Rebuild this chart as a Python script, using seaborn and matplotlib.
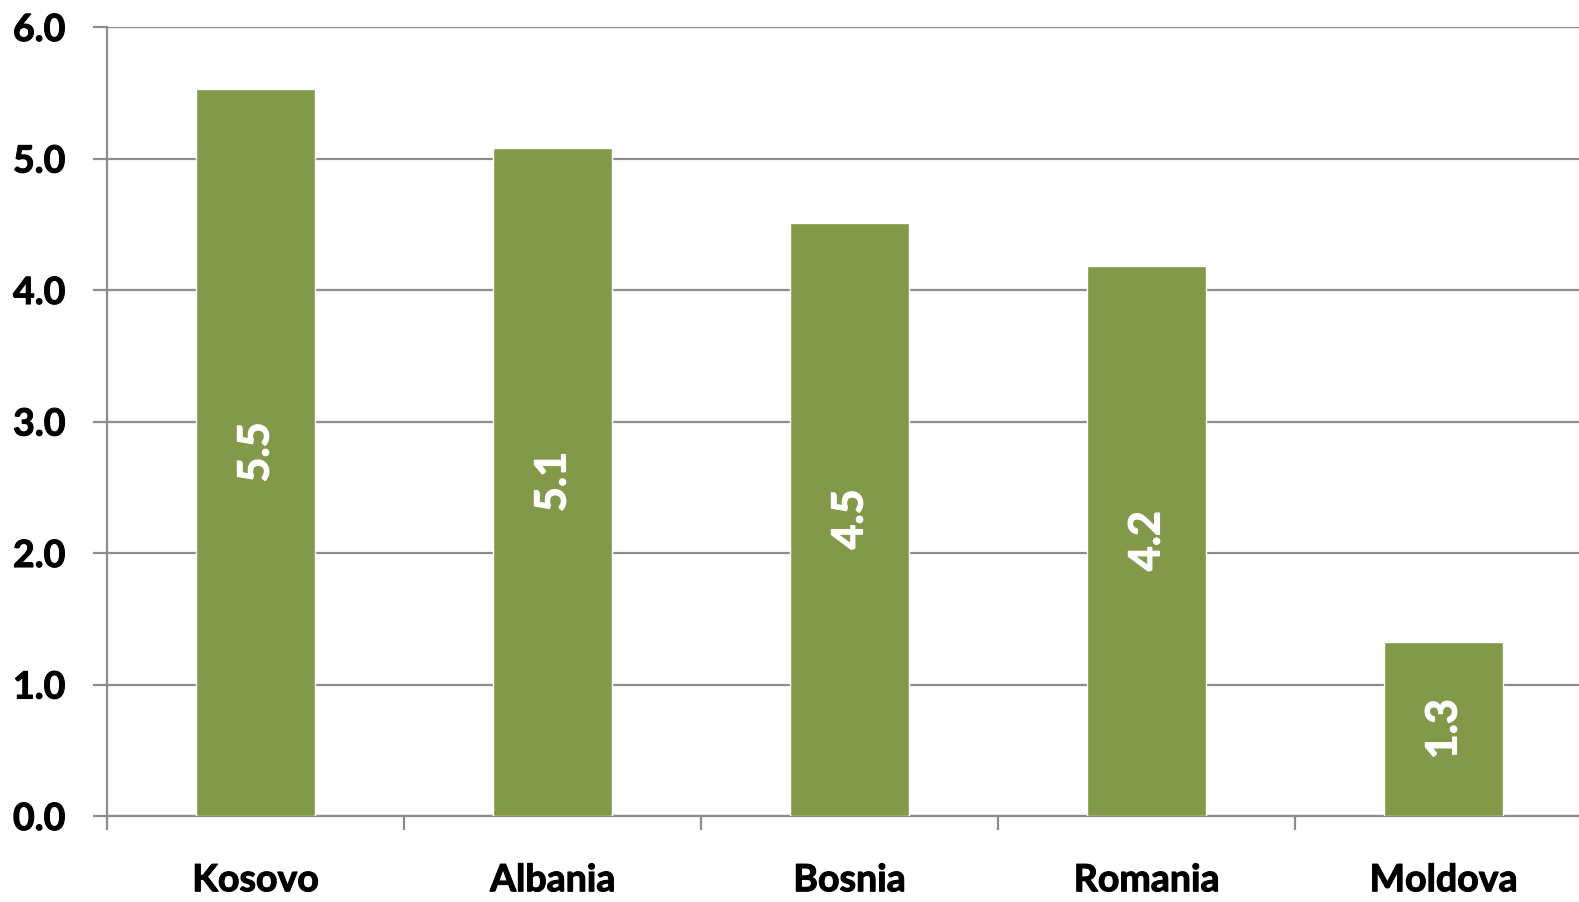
import pandas as pd
import numpy as np
import matplotlib.pyplot as plt
import matplotlib.patheffects as pe
import seaborn as sns

countries = ["Kosovo", "Albania", "Bosnia", "Romania", "Moldova"]
values = [5.53, 5.08, 4.51, 4.18, 1.32]
labels = ["5.5", "5.1", "4.5", "4.2", "1.3"]
yticks = [0.0, 1.0, 2.0, 3.0, 4.0, 5.0, 6.0]

GREEN = "#82994A"
GRID = "#8C8C8C"

sns.set_style("white")
plt.rcParams["font.family"] = ["Lato", "DejaVu Sans"]

df = pd.DataFrame({"country": countries, "value": values})

fig = plt.figure(figsize=(15.79, 9.03), dpi=100)
# axes runs a little past the right edge, like the source
ax = fig.add_axes([107 / 1579, (903 - 817) / 903, 1485 / 1579, (817 - 28) / 903])

sns.barplot(data=df, x="country", y="value", color=GREEN, width=0.4,
            saturation=1, ax=ax, zorder=3)

ax.set_xlim(-0.5, len(countries) - 0.5)
ax.set_ylim(0, 6)
ax.set_yticks(yticks)
ax.set_yticklabels([f"{t:.1f}" for t in yticks])
ax.yaxis.grid(True, color=GRID, linewidth=1.6, zorder=0)
ax.set_axisbelow(True)

for s in ["top", "right"]:
    ax.spines[s].set_visible(False)
for s in ["left", "bottom"]:
    ax.spines[s].set_color(GRID)
    ax.spines[s].set_linewidth(1.6)

ax.set_xlabel("")
ax.set_ylabel("")

ax.tick_params(axis="y", length=10, width=1.6, color=GRID, pad=20,
               labelsize=27, labelcolor="black", left=True)
ax.tick_params(axis="x", which="major", length=0, pad=34,
               labelsize=27, labelcolor="black")
ax.set_xticks(np.arange(-0.5, len(countries) + 0.5), minor=True)
ax.tick_params(axis="x", which="minor", length=10, width=1.6, color=GRID,
               bottom=True)

# Lato bold is a touch lighter than the source font, thicken with a stroke
thick_black = [pe.withStroke(linewidth=0.8, foreground="black")]
thick_white = [pe.withStroke(linewidth=0.8, foreground="white")]
for lab in ax.get_xticklabels() + ax.get_yticklabels():
    lab.set_fontweight("bold")
    lab.set_path_effects(thick_black)

for i, (v, t) in enumerate(zip(values, labels)):
    ax.text(i, v / 2, t, rotation=90, ha="center", va="center",
            color="white", fontsize=31, fontweight="bold", zorder=4,
            path_effects=thick_white)

plt.savefig("out.png", dpi=100)
